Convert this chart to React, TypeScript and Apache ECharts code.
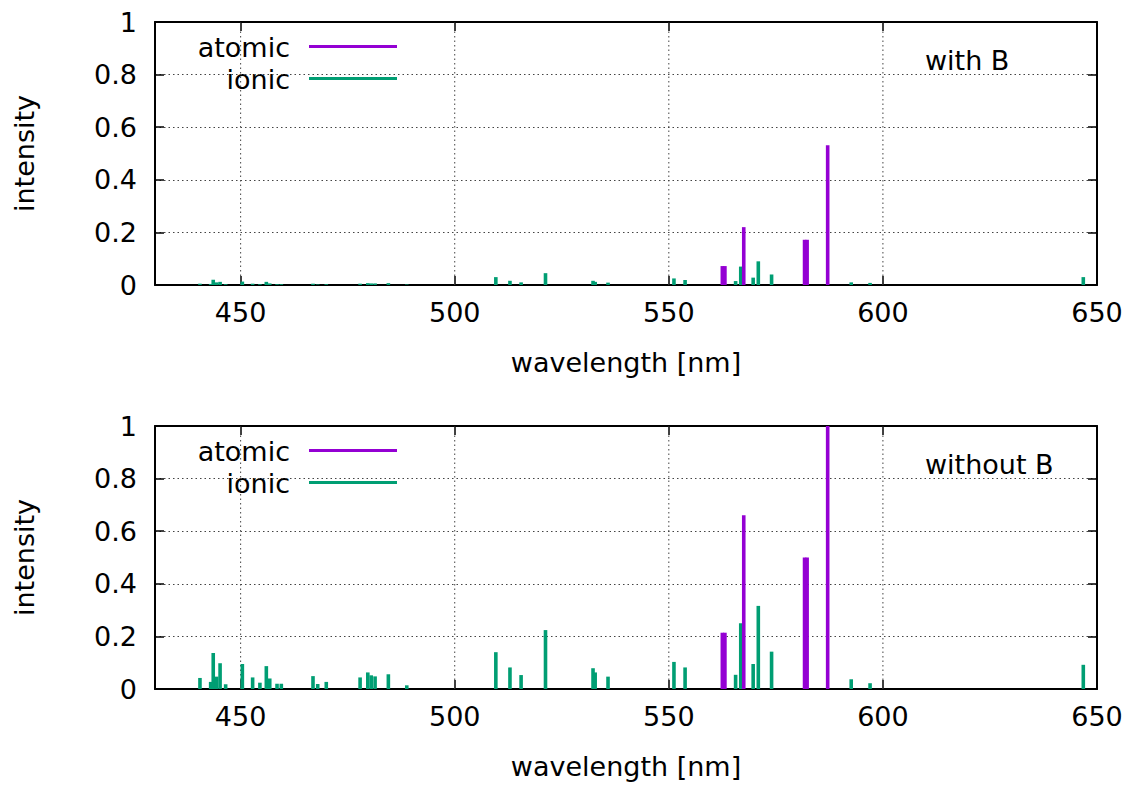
import React, { useEffect, useRef } from "react";
import * as echarts from "echarts";

// Line wavelengths [nm] and relative intensities
const atomicWavelengths = [562.5, 563.1, 567.5, 581.7, 582.3, 587.1];
const atomicWithB = [0.072, 0.072, 0.22, 0.172, 0.172, 0.531];
const atomicWithoutB = [0.214, 0.214, 0.661, 0.5, 0.5, 1.0];

const ionicWavelengths = [
  440.5, 443.0, 443.6, 444.4, 445.2, 446.5, 450.4, 452.8, 454.5, 456.0, 456.8,
  458.5, 459.5, 466.9, 468.0, 470.0, 477.9, 479.7, 480.5, 481.4, 484.5, 488.8,
  509.6, 512.9, 515.5, 521.2, 532.3, 532.8, 535.8, 551.2, 553.8, 565.6, 566.8,
  569.7, 570.9, 574.0, 592.6, 597.0, 646.8,
];
const ionicWithB = [
  0.005, 0.004, 0.02, 0.01, 0.012, 0.003, 0.013, 0.005, 0.003, 0.012, 0.006,
  0.003, 0.003, 0.005, 0.002, 0.003, 0.005, 0.007, 0.006, 0.006, 0.007, 0.002,
  0.03, 0.016, 0.01, 0.045, 0.016, 0.012, 0.009, 0.025, 0.019, 0.015, 0.07,
  0.028, 0.09, 0.04, 0.01, 0.008, 0.03,
];
const ionicWithoutB = [
  0.042, 0.027, 0.137, 0.047, 0.098, 0.018, 0.095, 0.044, 0.024, 0.087, 0.04,
  0.02, 0.02, 0.049, 0.019, 0.027, 0.044, 0.063, 0.052, 0.048, 0.056, 0.014,
  0.14, 0.082, 0.053, 0.224, 0.079, 0.063, 0.047, 0.103, 0.082, 0.054, 0.25,
  0.095, 0.316, 0.142, 0.037, 0.022, 0.092,
];

const xTickValues = [450, 500, 550, 600];
const xLabelValues = [450, 500, 550, 600, 650];
const panelTitles = ["with B", "without B"];

const FONT = "DejaVu Sans";
const FS = 27;
const PURPLE = "#9400d3";
const GREEN = "#009e73";

const X_MIN = 430;
const X_MAX = 650;
const GRID_LEFT = 155;
const GRID_WIDTH = 942;
const GRID_HEIGHT = 263;
const GRID_TOPS = [22, 426];

function barRenderer(color: string) {
  return (params: any, api: any) => {
    const x = api.value(0);
    const y = api.value(1);
    const top = api.coord([x, y]);
    const base = api.coord([x, 0]);
    const w = 3.6;
    return {
      type: "rect",
      shape: { x: top[0] - w / 2, y: top[1], width: w, height: base[1] - top[1] },
      style: { fill: color },
    };
  };
}

function gridLineRenderer(params: any, api: any) {
  const x = api.value(0);
  const p0 = api.coord([x, 0]);
  const p1 = api.coord([x, 1]);
  return {
    type: "line",
    shape: { x1: p0[0], y1: p0[1], x2: p1[0], y2: p1[1] },
    style: { stroke: "#444", lineWidth: 1, lineDash: [1.5, 3] },
  };
}

export default function App() {
  const ref = useRef<HTMLDivElement>(null);

  useEffect(() => {
    if (!ref.current) return;
    const chart = echarts.init(ref.current, null, { renderer: "svg" });

    const grids: any[] = [];
    const xAxes: any[] = [];
    const yAxes: any[] = [];
    const series: any[] = [];
    const graphics: any[] = [];

    const panels = [
      { atomic: atomicWithB, ionic: ionicWithB },
      { atomic: atomicWithoutB, ionic: ionicWithoutB },
    ];

    panels.forEach((panel, i) => {
      const top = GRID_TOPS[i];
      grids.push({ left: GRID_LEFT, top, width: GRID_WIDTH, height: GRID_HEIGHT });

      const axisLine = { show: true, onZero: false, lineStyle: { color: "#000", width: 2 } };
      // bottom x axis
      xAxes.push({
        type: "value",
        gridIndex: i,
        position: "bottom",
        min: X_MIN,
        max: X_MAX,
        axisLine,
        axisTick: {
          show: true,
          inside: true,
          length: 9,
          customValues: xTickValues,
          lineStyle: { color: "#000", width: 1.5 },
        },
        axisLabel: {
          customValues: xLabelValues,
          color: "#000",
          fontFamily: FONT,
          fontSize: FS,
          margin: 14,
        },
        splitLine: { show: false },
        name: "wavelength [nm]",
        nameLocation: "middle",
        nameGap: 64,
        nameTextStyle: { color: "#000", fontFamily: FONT, fontSize: FS },
      });
      // top mirror
      xAxes.push({
        type: "value",
        gridIndex: i,
        position: "top",
        min: X_MIN,
        max: X_MAX,
        axisLine,
        axisTick: {
          show: true,
          inside: true,
          length: 9,
          customValues: xTickValues,
          lineStyle: { color: "#000", width: 1.5 },
        },
        axisLabel: { show: false },
        splitLine: { show: false },
      });
      // left y axis
      yAxes.push({
        type: "value",
        gridIndex: i,
        position: "left",
        min: 0,
        max: 1,
        interval: 0.2,
        axisLine,
        axisTick: { show: true, inside: true, length: 9, lineStyle: { color: "#000", width: 1.5 } },
        axisLabel: {
          color: "#000",
          fontFamily: FONT,
          fontSize: FS,
          margin: 18,
        },
        splitLine: {
          show: true,
          lineStyle: { color: "#444", width: 1, type: [1.5, 3] },
        },
        name: "intensity",
        nameLocation: "middle",
        nameRotate: 90,
        nameGap: 117,
        nameTextStyle: { color: "#000", fontFamily: FONT, fontSize: FS },
      });
      // right mirror
      yAxes.push({
        type: "value",
        gridIndex: i,
        position: "right",
        min: 0,
        max: 1,
        interval: 0.2,
        axisLine,
        axisTick: { show: true, inside: true, length: 9, lineStyle: { color: "#000", width: 1.5 } },
        axisLabel: { show: false },
        splitLine: { show: false },
      });

      const xi = i * 2;
      const yi = i * 2;

      series.push({
        type: "custom",
        xAxisIndex: xi,
        yAxisIndex: yi,
        renderItem: gridLineRenderer,
        data: xTickValues.map((v) => [v]),
        encode: { x: 0 },
        silent: true,
        z: 1,
      });
      series.push({
        type: "custom",
        name: "ionic",
        xAxisIndex: xi,
        yAxisIndex: yi,
        renderItem: barRenderer(GREEN),
        data: ionicWavelengths.map((w, k) => [w, panel.ionic[k]]),
        encode: { x: 0, y: 1 },
        z: 3,
      });
      series.push({
        type: "custom",
        name: "atomic",
        xAxisIndex: xi,
        yAxisIndex: yi,
        renderItem: barRenderer(PURPLE),
        data: atomicWavelengths.map((w, k) => [w, panel.atomic[k]]),
        encode: { x: 0, y: 1 },
        z: 4,
      });

      // key inside the plot area
      const keyRows = [
        { label: "atomic", color: PURPLE, y: top + 25 },
        { label: "ionic", color: GREEN, y: top + 57 },
      ];
      keyRows.forEach((row) => {
        graphics.push({
          type: "text",
          x: 290,
          y: row.y,
          style: {
            text: row.label,
            fill: "#000",
            font: `${FS}px "${FONT}"`,
            textAlign: "right",
            textVerticalAlign: "middle",
            verticalAlign: "middle",
          },
        });
        graphics.push({
          type: "line",
          shape: { x1: 309, y1: row.y - 0.5, x2: 397, y2: row.y - 0.5 },
          style: { stroke: row.color, lineWidth: 3 },
        });
      });
      graphics.push({
        type: "text",
        x: 925,
        y: top + 38,
        style: {
          text: panelTitles[i],
          fill: "#000",
          font: `${FS}px "${FONT}"`,
          textAlign: "left",
          textVerticalAlign: "middle",
          verticalAlign: "middle",
        },
      });
    });

    chart.setOption({
      animation: false,
      backgroundColor: "#fff",
      grid: grids,
      xAxis: xAxes,
      yAxis: yAxes,
      series,
      graphic: graphics,
    });

    return () => chart.dispose();
  }, []);

  return (
    <div
      ref={ref}
      style={{ position: "absolute", left: 0, top: 0, width: 1134, height: 787, background: "#fff" }}
    />
  );
}
